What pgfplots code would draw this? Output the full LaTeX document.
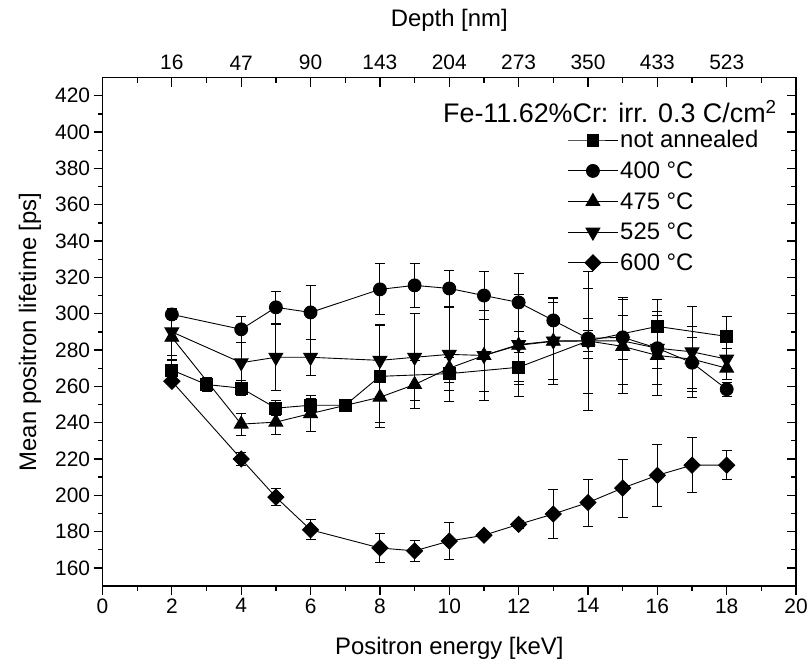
\documentclass[border=0pt]{standalone}
\usepackage{pgfplots}
\usepackage{pgfplotstable}
\pgfplotsset{compat=1.18}
\usepackage{fontspec}
\setmainfont{Liberation Sans}

% E [keV], lifetime [ps], error [ps]
\pgfplotstableread{
E y err
2 269 5
3 261 4
4 259 4
5 248 4
6 249.6 4
7 249.6 3
8 265.5 28
10 267 9
12 270.5 8
14 285 6
16 293 15
18 287.5 11
}\notann
\pgfplotstableread{
E y err
2 299.6 3
4 291.4 7
5 303.5 9
6 300.7 15
8 313.4 14
9 315.6 12
10 313.9 10
11 310 13
12 306.2 16
13 296.3 12
14 286.4 11
15 287 12
16 281 11
17 273 14
18 258.4 4
}\tfour
\pgfplotstableread{
E y err
2 287 12
4 239.2 6
5 240.3 7
6 245 10
8 254 14
9 261 13
10 270 8
11 277 25
12 282.6 28
13 284.8 24
14 285 38
15 282 26
16 277 22
17 275 18
18 270 6
}\tfourfive
\pgfplotstableread{
E y err
2 290 13
4 273 11
5 276 18
6 276 10
8 274.3 20
9 276 24
10 277.6 26
11 277 20
12 283 22
13 285 21
14 285 29
15 285 24
16 281 20
17 279 25
18 275 6
}\tfivetwofive
\pgfplotstableread{
E y err
2 262.8 2
4 220 3.5
5 199 4.5
6 181 5.5
8 171 8
9 169.4 6
10 174.8 10
11 178 2
12 184 2
13 189.7 13.5
14 196 13
15 204 16
16 211 17
17 216.6 15
18 216.6 8
}\tsix

\pgfplotsset{
  serie/.style={black, line width=0.9pt, mark options={solid, fill=black},
    error bars/y dir=both, error bars/y explicit,
    error bars/error bar style={line width=0.9pt, black},
    error bars/error mark options={rotate=90, mark size=5pt, line width=0.9pt, black}},
}

\begin{document}
\begin{tikzpicture}
\begin{axis}[name=main,
  width=697pt, height=511pt, scale only axis,
  xmin=0, xmax=20, ymin=150, ymax=430,
  xtick={0,2,...,20}, minor x tick num=1,
  ytick={160,180,...,420}, minor y tick num=1,
  xtick pos=left, ytick pos=left, tick align=outside,
  major tick length=9pt, minor tick length=5pt,
  axis line style={line width=1.6pt},
  every tick/.style={line width=1.3pt, black},
  /pgf/number format/assume math mode=true,
  tick label style={font=\fontsize{21}{24}\selectfont},
  label style={font=\fontsize{24}{28}\selectfont},
  xlabel={Positron energy [keV]},
  ylabel={Mean positron lifetime [ps]},
  xlabel style={at={([yshift=-63pt]axis description cs:0.5,0)}, anchor=center},
  ylabel style={at={([xshift=-73pt]axis description cs:0,0.5)}, anchor=center},
  legend style={draw=none, fill=none, at={(rel axis cs:0.666,0.904)},
    anchor=north west, row sep=8.5pt, font=\fontsize{24}{28}\selectfont,
    cells={anchor=west},
    /tikz/every even column/.append style={column sep=5pt}},
  legend image code/.code={\draw[mark repeat=2, mark phase=2, #1]
    plot coordinates {(0pt,0pt) (25pt,0pt) (50pt,0pt)};},
]
\addplot[serie, mark=square*, mark size=6pt] table[x=E, y=y, y error=err] {\notann};
\addlegendentry{not annealed}
\addplot[serie, mark=*, mark size=6.5pt] table[x=E, y=y, y error=err] {\tfour};
\addlegendentry{400 °C}
\addplot[serie, mark=triangle*, mark size=8pt] table[x=E, y=y, y error=err] {\tfourfive};
\addlegendentry{475 °C}
\addplot[serie, mark=triangle*, mark size=8pt, mark options={rotate=180}] table[x=E, y=y, y error=err] {\tfivetwofive};
\addlegendentry{525 °C}
\addplot[serie, mark=square*, mark size=5.7pt, mark options={rotate=45}] table[x=E, y=y, y error=err] {\tsix};
\addlegendentry{600 °C}
\end{axis}
\begin{axis}[
  width=697pt, height=511pt, scale only axis,
  xmin=0, xmax=20, ymin=150, ymax=430,
  axis x line*=top, axis y line*=right,
  axis line style={line width=1.6pt, -},
  xtick={2,4,...,18}, minor xtick={1,3,...,19},
  xticklabels={16,47,90,143,204,273,350,433,523},
  ytick={160,180,...,420}, minor y tick num=1, yticklabels={},
  tick align=inside,
  major tick length=9pt, minor tick length=5pt,
  every tick/.style={line width=1.3pt, black},
  tick label style={font=\fontsize{21}{24}\selectfont},
  xticklabel style={yshift=4pt},
  label style={font=\fontsize{24}{28}\selectfont},
  xlabel={Depth [nm]},
  xlabel style={at={([yshift=58pt]axis description cs:0.5,1)}, anchor=center},
]
\end{axis}
\node[anchor=east, font=\fontsize{27}{31}\selectfont] at ([xshift=-16pt, yshift=-34pt]main.north east)
  {Fe-11.62\%Cr: irr. 0.3 C/cm\textsuperscript{2}};
\path (main.south west) ++(-103pt,-80pt) coordinate (bl);
\path (main.north east) ++(12pt,78pt) coordinate (tr);
\path (bl) rectangle (tr);
\end{tikzpicture}
\end{document}
